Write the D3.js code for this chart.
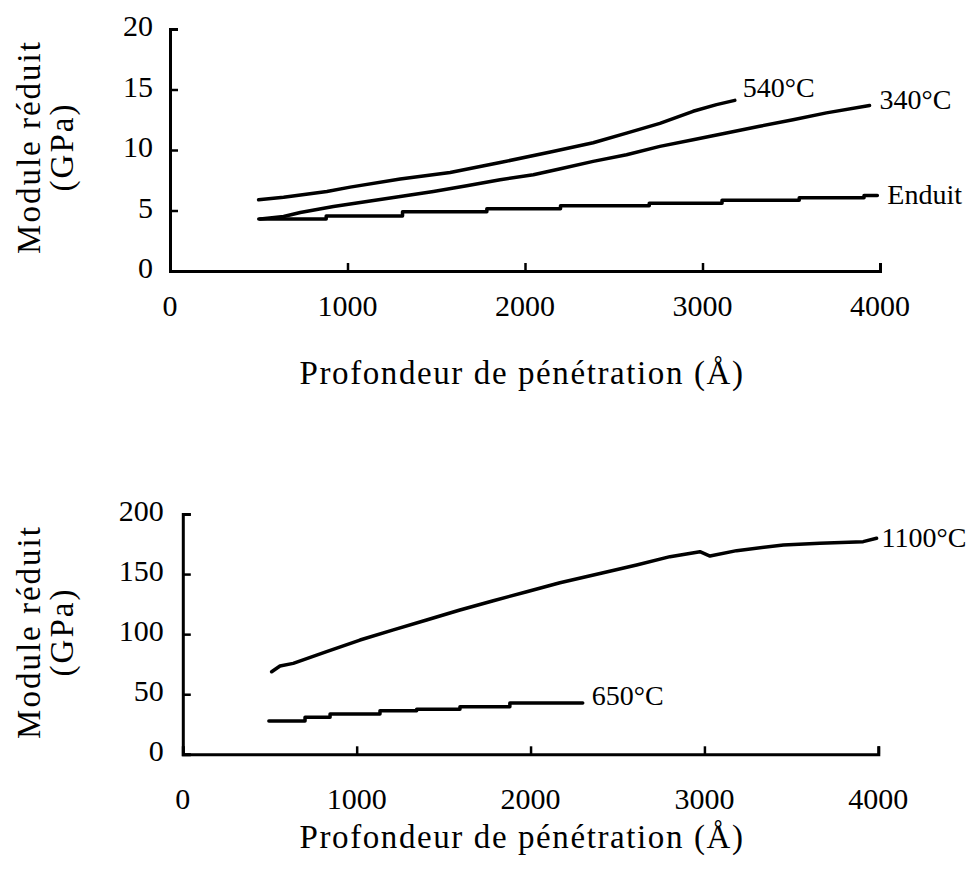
<!DOCTYPE html>
<html>
<head>
<meta charset="utf-8">
<script src="https://cdn.jsdelivr.net/npm/d3@7"></script>
<style>
  body { margin: 0; background: #fff; }
  svg text { font-family: "Liberation Serif", "Times New Roman", serif; fill: #000; }
</style>
</head>
<body>
<script>

// Tick labels for both charts
var xTicks = [0, 1000, 2000, 3000, 4000]
var yTicksTop = [0, 5, 10, 15, 20]
var yTicksBottom = [0, 50, 100, 150, 200]

// Top chart series (depth in Angstrom, reduced modulus in GPa)
var depth540 = [499, 640, 884, 1015, 1297, 1578, 1860, 2150, 2384, 2572, 2760, 2947, 3079, 3182]
var mod540 = [5.88, 6.1, 6.57, 6.93, 7.6, 8.14, 8.97, 9.85, 10.6, 11.4, 12.2, 13.2, 13.75, 14.1]

var depth340 = [509, 640, 734, 921, 1109, 1297, 1484, 1672, 1860, 2047, 2200, 2384, 2572, 2760, 2947, 3135, 3322, 3510, 3698, 3941]
var mod340 = [4.3, 4.5, 4.83, 5.33, 5.74, 6.16, 6.57, 7.04, 7.54, 7.95, 8.45, 9.06, 9.61, 10.3, 10.85, 11.4, 11.96, 12.5, 13.07, 13.67]

// the coating curve goes up in steps
var depthEnduit = [500, 880, 1310, 1785, 2200, 2700, 3110, 3545, 3910, 3985]
var modEnduit = [4.3, 4.55, 4.9, 5.15, 5.4, 5.6, 5.85, 6.05, 6.25, 6.25]

// Bottom chart series
var depth1100 = [511, 559, 635, 827, 1019, 1211, 1402, 1594, 1786, 1978, 2169, 2418, 2610, 2802, 2974, 3032, 3185, 3454, 3664, 3913, 3990]
var mod1100 = [68.7, 73.5, 75.7, 85.4, 95.1, 103.5, 111.8, 120.1, 127.8, 135.3, 142.8, 151.1, 157.6, 164.5, 168.6, 165, 169.5, 174.2, 175.6, 177, 179.8]

// also stepped
var depth650 = [495, 703, 847, 1134, 1345, 1594, 1881, 2300]
var mod650 = [27.7, 30.8, 33.5, 36.3, 37.4, 39.6, 42.6, 42.6]

var width = 974
var height = 870

var svg = d3.select("body")
    .append("svg")
    .attr("width", width)
    .attr("height", height)

// zip two arrays into points
function zip(xs, ys) {
    return xs.map(function(x, i) { return [x, ys[i]] })
}

// Draws one panel: axes, titles, curves and their end labels
function drawPanel(opts) {
    var xScale = d3.scaleLinear().domain([0, 4000]).range([opts.left, opts.right])
    var yScale = d3.scaleLinear().domain([0, opts.yMax]).range([opts.bottom, opts.top])

    var g = svg.append("g")

    // inward ticks, thick axis lines
    var xAxis = g.append("g")
        .attr("transform", "translate(0," + opts.bottom + ")")
        .call(d3.axisTop(xScale).tickValues(xTicks).tickSize(8).tickFormat(""))
    var yAxis = g.append("g")
        .attr("transform", "translate(" + opts.left + ",0)")
        .call(d3.axisRight(yScale).tickValues(opts.yTicks).tickSize(8).tickFormat(""))

    g.selectAll(".domain").attr("stroke", "#000").attr("stroke-width", 3)
    g.selectAll(".tick line").attr("stroke", "#000").attr("stroke-width", 2.5)

    // tick labels drawn by hand so they sit outside the frame
    g.selectAll(".xlab").data(xTicks).join("text")
        .attr("x", d => xScale(d))
        .attr("y", opts.bottom + opts.xLabGap)
        .attr("text-anchor", "middle")
        .attr("font-size", 30)
        .text(d => d)

    g.selectAll(".ylab").data(opts.yTicks).join("text")
        .attr("x", opts.left - opts.yLabGap)
        .attr("y", d => yScale(d) + 7)
        .attr("text-anchor", "end")
        .attr("font-size", 30)
        .text(d => d)

    // axis titles
    g.append("text")
        .attr("x", 522)
        .attr("y", opts.bottom + opts.titleGap)
        .attr("text-anchor", "middle")
        .attr("font-size", 33)
        .attr("letter-spacing", 1.6)
        .text("Profondeur de pénétration (Å)")

    g.append("text")
        .attr("transform", "translate(40," + opts.titleY + ") rotate(-90)")
        .attr("text-anchor", "middle")
        .attr("font-size", 33)
        .attr("letter-spacing", 2)
        .text("Module réduit")

    g.append("text")
        .attr("transform", "translate(73," + opts.titleY + ") rotate(-90)")
        .attr("text-anchor", "middle")
        .attr("font-size", 33)
        .attr("letter-spacing", 2)
        .text("(GPa)")

    // curves
    opts.series.forEach(function(s) {
        var line = d3.line()
            .x(d => xScale(d[0]))
            .y(d => yScale(d[1]))
            .curve(s.step ? d3.curveStepAfter : d3.curveLinear)

        g.append("path")
            .datum(s.points)
            .attr("fill", "none")
            .attr("stroke", "#000")
            .attr("stroke-width", 3.5)
            .attr("stroke-linejoin", "round")
            .attr("stroke-linecap", "round")
            .attr("d", line)

        var last = s.points[s.points.length - 1]
        g.append("text")
            .attr("x", xScale(last[0]) + s.dx)
            .attr("y", yScale(last[1]) + s.dy)
            .attr("font-size", 28)
            .text(s.name)
    })
}

drawPanel({
    left: 170, right: 880, top: 29, bottom: 271,
    yMax: 20, yTicks: yTicksTop, yLabGap: 17,
    xLabGap: 45, titleGap: 113, titleY: 147,
    series: [
        {name: "540°C", points: zip(depth540, mod540), dx: 8, dy: -3},
        {name: "340°C", points: zip(depth340, mod340), dx: 10, dy: 3},
        {name: "Enduit", points: zip(depthEnduit, modEnduit), dx: 10, dy: 9, step: true}
    ]
})

drawPanel({
    left: 182.8, right: 878.3, top: 514, bottom: 754.3,
    yMax: 200, yTicks: yTicksBottom, yLabGap: 19,
    xLabGap: 55, titleGap: 94, titleY: 632,
    series: [
        {name: "1100°C", points: zip(depth1100, mod1100), dx: 5, dy: 9},
        {name: "650°C", points: zip(depth650, mod650), dx: 9, dy: 2, step: true}
    ]
})

</script>
</body>
</html>
